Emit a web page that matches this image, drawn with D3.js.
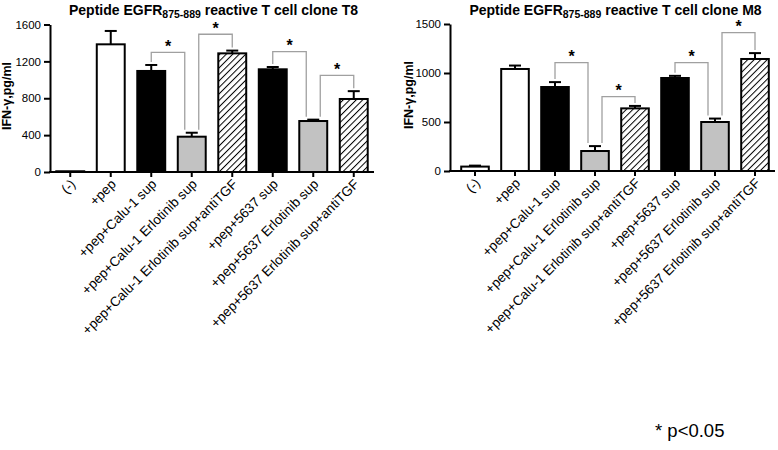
<!DOCTYPE html>
<html>
<head>
<meta charset="utf-8">
<script src="https://cdn.jsdelivr.net/npm/d3@7"></script>
<style>
  body { margin: 0; background: #fff; }
  svg { display: block; font-family: Arial, "Liberation Sans", sans-serif; }
</style>
</head>
<body>
<svg id="chart" width="778" height="450"></svg>
<script>
// ---------- data ----------
const categories = [
  "(-)", "+pep", "+pep+Calu-1 sup", "+pep+Calu-1 Erlotinib sup",
  "+pep+Calu-1 Erlotinib sup+antiTGF", "+pep+5637 sup",
  "+pep+5637 Erlotinib sup", "+pep+5637 Erlotinib sup+antiTGF"
];
const barKinds = ["white", "white", "black", "gray", "hatch", "black", "gray", "hatch"];

const t8Values = [8, 1385, 1096, 383, 1287, 1114, 553, 792];
const t8Errors = [0, 145, 65, 43, 30, 25, 15, 85];
const t8Ticks = [0, 400, 800, 1200, 1600];
const t8SigLevels = [1298, 1494, 1305, 1049];

const m8Values = [45, 1041, 857, 204, 639, 949, 500, 1143];
const m8Errors = [10, 35, 50, 50, 25, 22, 35, 60];
const m8Ticks = [0, 500, 1000, 1500];
const m8SigLevels = [1105, 758, 1105, 1411];

const sigPairs = [[2, 3], [3, 4], [5, 6], [6, 7]];

// ---------- drawing ----------
const svg = d3.select("#chart");
const defs = svg.append("defs");
const pat = defs.append("pattern")
  .attr("id", "hatch")
  .attr("patternUnits", "userSpaceOnUse")
  .attr("width", 4.6).attr("height", 4.6)
  .attr("patternTransform", "rotate(45)");
pat.append("rect").attr("width", 4.6).attr("height", 4.6).attr("fill", "#fff");
pat.append("line").attr("x1", 0).attr("y1", 0).attr("x2", 0).attr("y2", 4.6)
  .attr("stroke", "#000").attr("stroke-width", 2.0);

const fills = { white: "#fff", black: "#000", gray: "#c2c2c2", hatch: "url(#hatch)" };

function drawPanel(cfg) {
  const g = svg.append("g");
  const x = d3.scaleBand().domain(categories).range(cfg.xRange)
    .paddingInner(0.31).paddingOuter(0.155);
  const y = d3.scaleLinear().domain([0, cfg.ticks[cfg.ticks.length - 1]]).range(cfg.yRange);
  const cx = d => x(d) + x.bandwidth() / 2;

  // bars
  g.selectAll("rect.bar").data(categories).join("rect")
    .attr("class", "bar")
    .attr("x", d => x(d))
    .attr("width", x.bandwidth())
    .attr("y", (d, i) => y(cfg.values[i]))
    .attr("height", (d, i) => y(0) - y(cfg.values[i]))
    .attr("fill", (d, i) => fills[barKinds[i]])
    .attr("stroke", "#000").attr("stroke-width", 2);

  // error bars (upper)
  categories.forEach((d, i) => {
    if (cfg.errors[i] <= 0) return;
    const top = y(cfg.values[i] + cfg.errors[i]);
    g.append("line").attr("x1", cx(d)).attr("x2", cx(d))
      .attr("y1", y(cfg.values[i])).attr("y2", top)
      .attr("stroke", "#000").attr("stroke-width", 2);
    g.append("line").attr("x1", cx(d) - 6).attr("x2", cx(d) + 6)
      .attr("y1", top).attr("y2", top)
      .attr("stroke", "#000").attr("stroke-width", 2);
  });

  // y axis
  const ya = g.append("g").attr("transform", `translate(${cfg.axisX},0)`)
    .call(d3.axisLeft(y).tickValues(cfg.ticks).tickFormat(d3.format("d"))
      .tickSize(6).tickSizeOuter(0).tickPadding(3));
  ya.select(".domain").attr("stroke-width", 2);
  ya.selectAll(".tick line").attr("stroke-width", 2);
  ya.selectAll(".tick text").attr("font-size", 11.5)
    .attr("font-family", "Arial, 'Liberation Sans', sans-serif").attr("fill", "#000");

  // x axis
  const xa = g.append("g").attr("transform", `translate(0,${y(0)})`)
    .call(d3.axisBottom(x).tickSize(5).tickSizeOuter(0).tickFormat(""));
  xa.select(".domain").remove();
  xa.selectAll(".tick line").attr("stroke-width", 2);
  g.append("line").attr("x1", cfg.axisX - 1).attr("x2", cfg.xRange[1])
    .attr("y1", y(0)).attr("y2", y(0)).attr("stroke", "#000").attr("stroke-width", 2);

  // x labels (rotated)
  g.selectAll("text.xl").data(categories).join("text")
    .attr("class", "xl")
    .attr("transform", d => `translate(${cx(d) + 6},${y(0) + 13}) rotate(-45)`)
    .attr("text-anchor", "end")
    .attr("font-size", 13.5)
    .attr("fill", "#000")
    .text(d => d);

  // significance brackets
  const fromSet = new Set(sigPairs.map(p => p[0]));
  const toSet = new Set(sigPairs.map(p => p[1]));
  sigPairs.forEach((p, k) => {
    const [a, b] = p;
    const xa0 = cx(categories[a]) + (toSet.has(a) ? 7 : 0);
    const xb0 = cx(categories[b]) - (fromSet.has(b) ? 7 : 0);
    const yl = y(cfg.sigLevels[k]);
    const ya0 = y(cfg.values[a] + cfg.errors[a]) - 3;
    const yb0 = y(cfg.values[b] + cfg.errors[b]) - 3;
    g.append("path")
      .attr("d", `M${xa0},${ya0}V${yl}H${xb0}V${yb0}`)
      .attr("fill", "none").attr("stroke", "#a0a0a0").attr("stroke-width", 1.3);
    g.append("text").attr("x", (xa0 + xb0) / 2).attr("y", yl - 0.5)
      .attr("text-anchor", "middle").attr("font-size", 16).attr("font-weight", "bold")
      .text("*");
  });

  // y label
  g.append("text")
    .attr("transform", `translate(${cfg.ylabelX},${cfg.ylabelY}) rotate(-90)`)
    .attr("text-anchor", "middle").attr("font-size", 12.5).attr("font-weight", "bold")
    .text("IFN-γ,pg/ml");

  // title
  const t = g.append("text").attr("x", cfg.titleX).attr("y", 15)
    .attr("text-anchor", "middle").attr("font-size", 14).attr("font-weight", "bold");
  t.append("tspan").text("Peptide EGFR");
  t.append("tspan").attr("font-size", 10.5).attr("dy", 3).text("875-889");
  t.append("tspan").attr("dy", -3).text(" reactive T cell clone " + cfg.clone);
}

drawPanel({
  values: t8Values, errors: t8Errors, ticks: t8Ticks, sigLevels: t8SigLevels,
  xRange: [50, 374], yRange: [172, 24.5], axisX: 50,
  ylabelX: 11, ylabelY: 96, titleX: 213.5, clone: "T8"
});
drawPanel({
  values: m8Values, errors: m8Errors, ticks: m8Ticks, sigLevels: m8SigLevels,
  xRange: [455, 775], yRange: [171, 24], axisX: 450,
  ylabelX: 413, ylabelY: 95, titleX: 615.5, clone: "M8"
});

svg.append("text").attr("x", 655).attr("y", 437)
  .attr("font-size", 18.5).attr("fill", "#000").text("* p<0.05");
</script>
</body>
</html>
